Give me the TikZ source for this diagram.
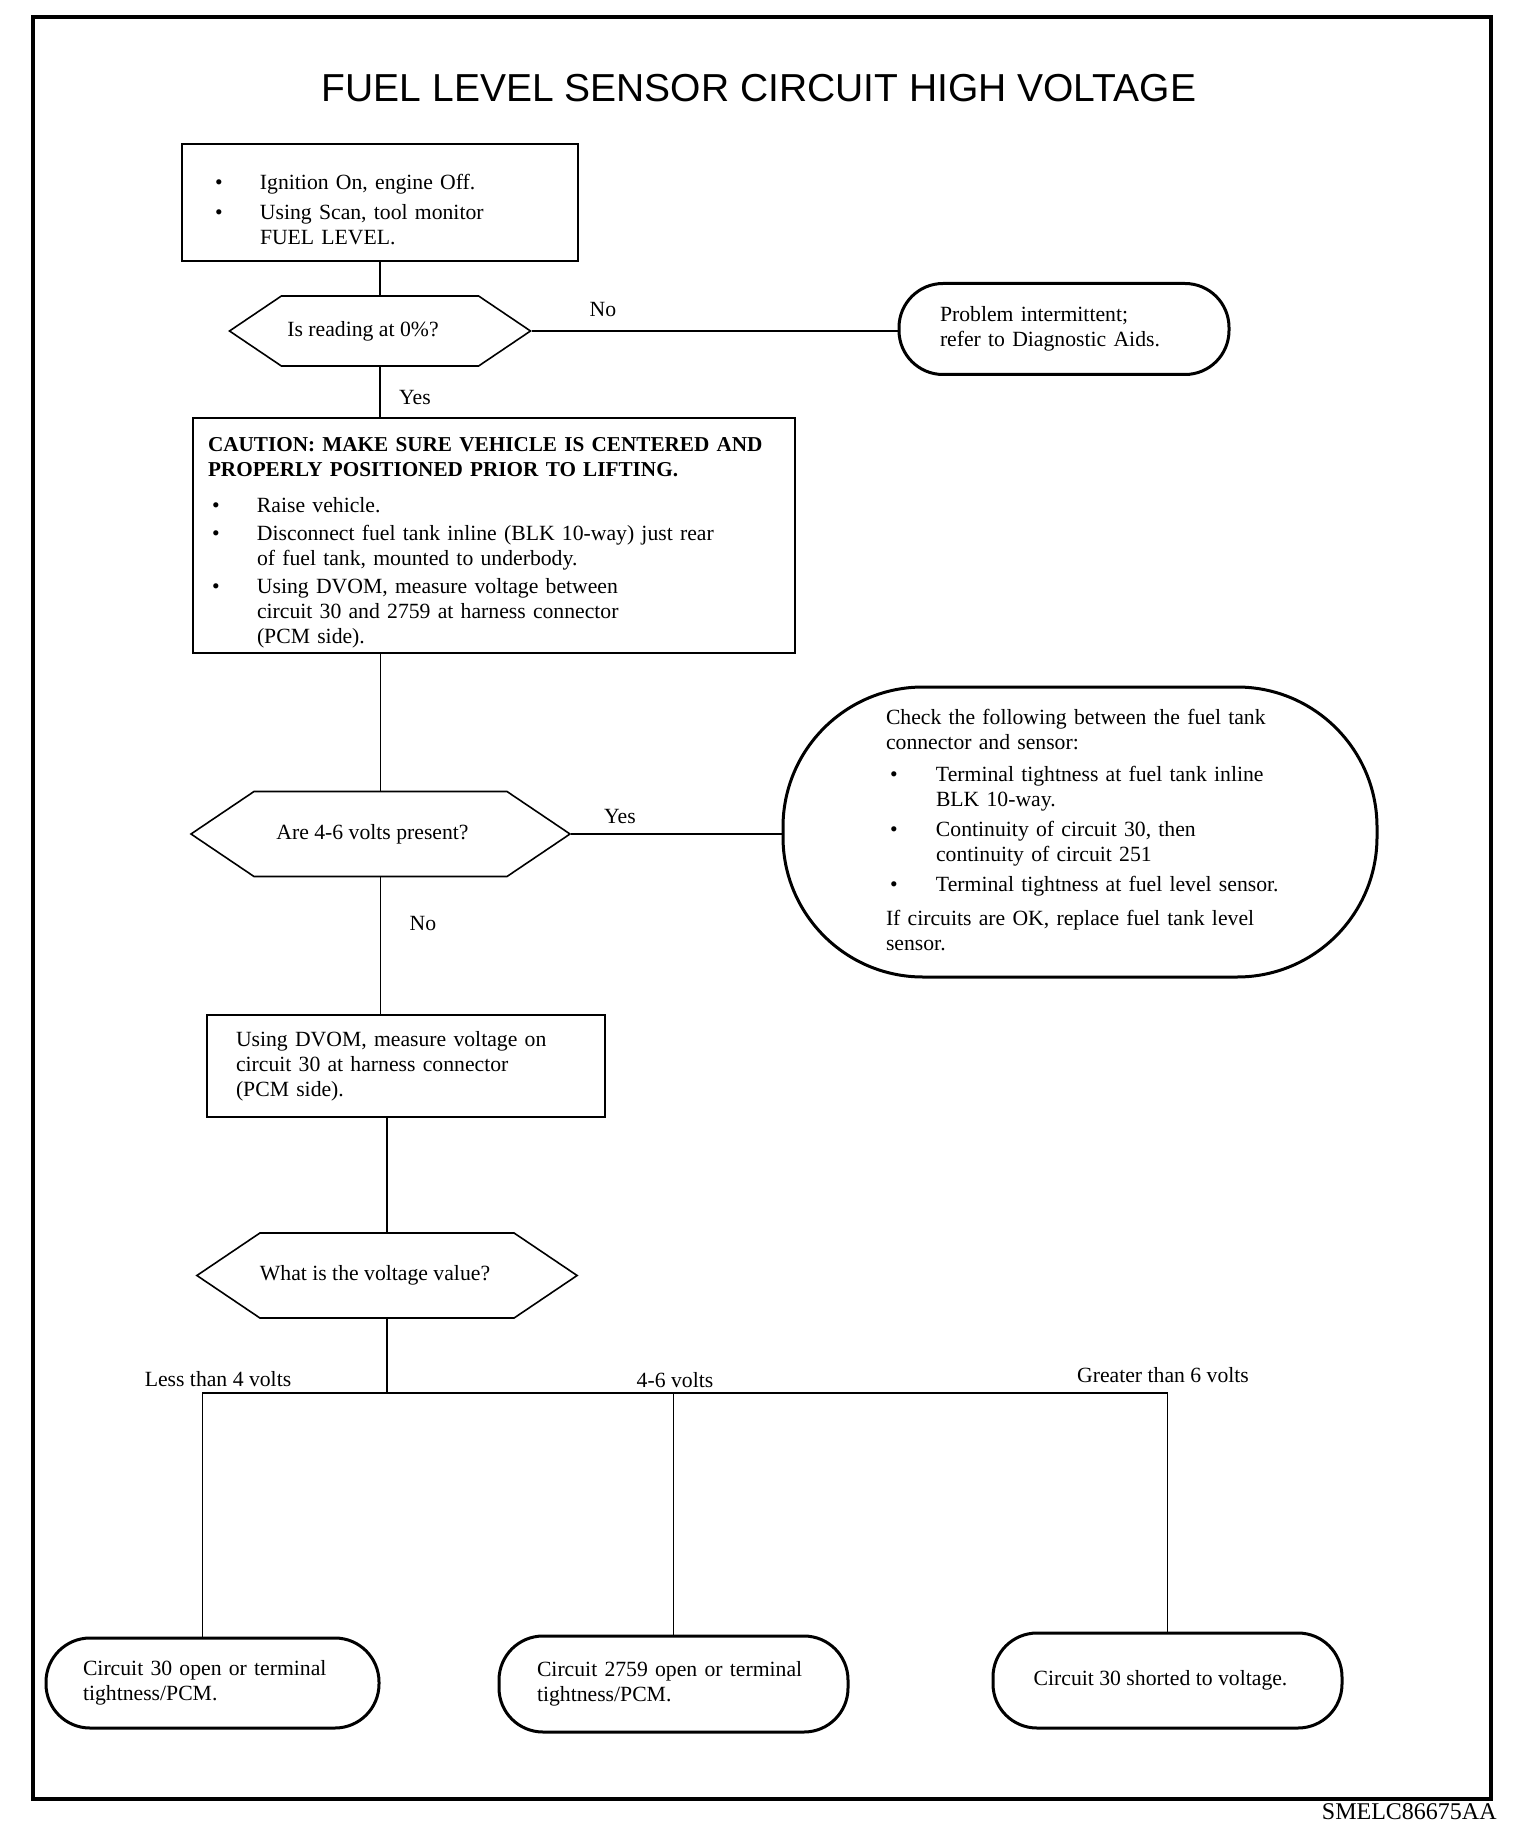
\documentclass[tikz,border=0pt]{standalone}
\usepackage{fontspec}
\setmainfont{Liberation Serif}
\newfontfamily\titlefont{Liberation Sans}
\usetikzlibrary{shapes.symbols}

\begin{document}
\begin{tikzpicture}[
  x=0.5pt, y=-0.5pt,
  every node/.style={align=left, font=\fontsize{10.85}{12.5}\selectfont},
  box/.style={draw, line width=0.9pt, inner ysep=0pt},
  decision/.style={draw, line width=0.8pt, signal, signal to=west and east,
    signal pointer angle=68, inner sep=0pt, align=center},
  terminal/.style={draw, line width=1.5pt, rounded corners=22pt, inner ysep=0pt},
  flow/.style={line width=0.9pt},
  answer/.style={inner sep=0pt}]

\useasboundingbox (0,0) rectangle (1520,1834);

% Outer frame and title
\draw[line width=2pt] (33,17) rectangle (1491,1799);
\node[font=\titlefont\fontsize{19.5}{22}\selectfont] (title) at (759,88)
  {FUEL LEVEL SENSOR CIRCUIT HIGH VOLTAGE};

% Steps and decisions, top to bottom
\node[box, text width=165pt, inner xsep=16.5pt, minimum height=58.5pt] (ignitionOn) at (380,202.5) {%
  \begin{tabular}{@{}p{22.5pt}@{}l@{}}
  \rule{0pt}{18pt}\textbullet & Ignition On, engine Off.\\[2.5pt]
  \textbullet & Using Scan, tool monitor\\
              & FUEL LEVEL.
  \end{tabular}};

\node[decision, minimum width=150.5pt, minimum height=35pt] (readingZero) at (380,331)
  {Is reading at 0\%?\hspace*{17pt}};

\node[terminal, text width=124pt, inner xsep=20.5pt, minimum height=45.5pt] (problemIntermittent) at (1064,329)
  {Problem intermittent;\\ refer to Diagnostic Aids.};

\node[box, text width=286pt, inner xsep=7.5pt, minimum height=117.5pt] (raiseVehicle) at (494,535.5) {%
  \begin{tabular}{@{}p{2pt}@{}p{22.5pt}@{}l@{}}
  \multicolumn{3}{@{}l@{}}{\rule{0pt}{15.75pt}\bfseries\fontsize{10.6}{12.5}\selectfont
    CAUTION: MAKE SURE VEHICLE IS CENTERED AND}\\
  \multicolumn{3}{@{}l@{}}{\bfseries\fontsize{10.6}{12.5}\selectfont
    PROPERLY POSITIONED PRIOR TO LIFTING.}\\[5.5pt]
  & \textbullet & Raise vehicle.\\[1.5pt]
  & \textbullet & Disconnect fuel tank inline (BLK 10-way) just rear\\
  & & of fuel tank, mounted to underbody.\\[1.5pt]
  & \textbullet & Using DVOM, measure voltage between\\
  & & circuit 30 and 2759 at harness connector\\
  & & (PCM side).
  \end{tabular}};

\node[decision, minimum width=189.5pt, minimum height=42.5pt] (voltsPresent) at (380.5,834)
  {Are 4-6 volts present?\hspace*{8pt}};

\node[terminal, rounded corners=70pt, text width=200pt, inner xsep=48.5pt, minimum height=145pt] (checkTank) at (1080,832) {%
  \hspace*{3pt}\begin{tabular}{@{}p{2pt}@{}p{23pt}@{}l@{}}
  \multicolumn{3}{@{}l@{}}{Check the following between the fuel tank}\\
  \multicolumn{3}{@{}l@{}}{connector and sensor:}\\[3.5pt]
  & \textbullet & Terminal tightness at fuel tank inline\\
  & & BLK 10-way.\\[2.5pt]
  & \textbullet & Continuity of circuit 30, then\\
  & & continuity of circuit 251\\[2.5pt]
  & \textbullet & Terminal tightness at fuel level sensor.\\[4.5pt]
  \multicolumn{3}{@{}l@{}}{If circuits are OK, replace fuel tank level}\\
  \multicolumn{3}{@{}l@{}}{sensor.}
  \end{tabular}};

\node[box, text width=170pt, inner xsep=14.5pt, minimum height=51pt] (measureCircuit) at (406,1066)
  {Using DVOM, measure voltage on\\ circuit 30 at harness connector\\ (PCM side).};

\node[decision, minimum width=189pt, minimum height=42.5pt] (voltageValue) at (387,1275.5)
  {What is the voltage value?\hspace*{12pt}};

% Results
\node[terminal, text width=129.5pt, inner xsep=18.5pt, minimum height=45pt] (circuitOpen) at (212.5,1683)
  {Circuit 30 open or terminal\\ tightness/PCM.};
\node[terminal, text width=136.5pt, inner xsep=19pt, minimum height=48pt] (circuitOpenPcm) at (673.5,1684)
  {Circuit 2759 open or terminal\\ tightness/PCM.};
\node[terminal, align=center, minimum width=174.5pt, minimum height=47.5pt] (circuitShorted) at (1167.5,1680.5)
  {Circuit 30 shorted to voltage.\hspace*{7pt}};

% Answer labels
\node[answer] (noReading) at (603,310) {No};
\node[answer] (yesReading) at (415,398) {Yes};
\node[answer] (yesVolts) at (620,816) {Yes};
\node[answer] (noVolts) at (423,923) {No};
\node[answer] (lessFour) at (218,1379) {Less than 4 volts};
\node[answer] (fourSix) at (675,1380) {4-6 volts};
\node[answer] (greaterSix) at (1163,1375) {Greater than 6 volts};
\node[answer, anchor=east, font=\fontsize{12}{14}\selectfont] (figCode) at (1497,1812) {SMELC86675AA};

% Connect the boxes
\draw[flow] (ignitionOn) -- (readingZero);
\draw[flow] (readingZero.east) -- (readingZero.east -| problemIntermittent.west);
\draw[flow] (readingZero.south) -- (readingZero.south |- raiseVehicle.north);
\draw[flow] (voltsPresent.north |- raiseVehicle.south) -- (voltsPresent.north);
\draw[flow] (voltsPresent.east) -- (voltsPresent.east -| checkTank.west);
\draw[flow] (voltsPresent.south) -- (voltsPresent.south |- measureCircuit.north);
\draw[flow] (voltageValue.north |- measureCircuit.south) -- (voltageValue.north);

% Three way split on the voltage value
\coordinate (fork) at (387,1393);
\draw[flow] (voltageValue.south) -- (fork);
\draw[flow] ([xshift=-5pt]circuitOpen.north) |- (fork) -| (circuitShorted.north);
\draw[flow] (circuitOpenPcm.north) -- (circuitOpenPcm.north |- fork);

\end{tikzpicture}
\end{document}
